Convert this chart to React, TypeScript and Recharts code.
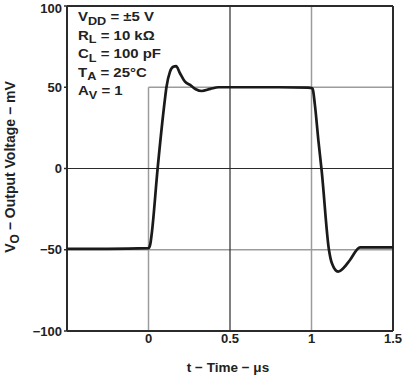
import { LineChart, Line, XAxis, YAxis, ReferenceLine, Label } from "recharts";

// pulse response
const timeUs = [
  -0.5, -0.25, 0, 0.01, 0.02, 0.056, 0.1, 0.11, 0.132, 0.152, 0.169, 0.193, 0.224, 0.255,
  0.29, 0.326, 0.38, 0.43, 0.6, 0.8, 0.98, 1.0, 1.007, 1.021, 1.042, 1.063, 1.107, 1.124,
  1.164, 1.195, 1.236, 1.298, 1.4, 1.5,
];
const outputMv = [
  -49.5, -49.5, -49, -47, -40, 0, 42, 50, 59.6, 62.6, 63, 58.6, 53.4, 51.4,
  48.8, 47.7, 49, 50, 50, 50, 49.8, 49.5, 49, 39, 17.5, -2, -50, -58,
  -63.5, -61.4, -56.3, -48.5, -48.5, -48.5,
];

const xTicks = [0, 0.5, 1, 1.5];
const yTicks = [-100, -50, 0, 50, 100];

const conditions = [
  { main: "V", sub: "DD", rest: " = ±5 V" },
  { main: "R", sub: "L", rest: " = 10 kΩ" },
  { main: "C", sub: "L", rest: " = 100 pF" },
  { main: "T", sub: "A", rest: " = 25°C" },
  { main: "A", sub: "V", rest: " = 1" },
];

const data = timeUs.map((t, i) => ({ t, v: outputMv[i] }));

const FONT = "'Liberation Sans', Arial, Helvetica, sans-serif";
const GRAY = "#9c9c9c";
const DARK = "#2b2b2b";

const fmt = (v: number) => (v < 0 ? `\u2212${Math.abs(v)}` : `${v}`);

const tickStyle = { fontFamily: FONT, fontSize: 13, fontWeight: 700, fill: "#222" };

const YTitle = () => (
  <text
    x={15}
    y={167}
    transform="rotate(-90 15 167)"
    textAnchor="middle"
    fontFamily={FONT}
    fontSize={14}
    fontWeight={700}
    fill="#222"
  >
    <tspan>V</tspan>
    <tspan dy={3.5} fontSize={12}>O</tspan>
    <tspan dy={-3.5}> − Output Voltage − mV</tspan>
  </text>
);

const XTitle = () => (
  <text x={228} y={372} textAnchor="middle" fontFamily={FONT} fontSize={13.5} fontWeight={700} fill="#222">
    t − Time − μs
  </text>
);

export default function App() {
  return (
    <div style={{ position: "absolute", left: 0, top: 0, width: 405, height: 376, background: "#fff" }}>
      <LineChart width={405} height={376} data={data} margin={{ top: 6, right: 12, bottom: 0, left: 0 }}>
        <XAxis
          dataKey="t"
          type="number"
          domain={[-0.5, 1.5]}
          ticks={xTicks}
          allowDataOverflow
          height={45}
          axisLine={false}
          tickLine={false}
          tickSize={0}
          tickMargin={3}
          tick={tickStyle}
        >
          <Label content={<XTitle />} />
        </XAxis>
        <YAxis
          type="number"
          domain={[-100, 100]}
          ticks={yTicks}
          allowDataOverflow
          width={67}
          axisLine={false}
          tickLine={{ stroke: DARK, strokeWidth: 1.5 }}
          tickSize={3}
          tickMargin={2}
          tickFormatter={fmt}
          tick={tickStyle}
        >
          <Label content={<YTitle />} />
        </YAxis>

        {/* input pulse / grid, light */}
        <ReferenceLine segment={[{ x: 0, y: -100 }, { x: 0, y: 50 }]} stroke={GRAY} strokeWidth={1.5} />
        <ReferenceLine x={1} stroke={GRAY} strokeWidth={1.5} />
        <ReferenceLine segment={[{ x: 0, y: 50 }, { x: 1.5, y: 50 }]} stroke={GRAY} strokeWidth={1.5} />
        <ReferenceLine y={-50} stroke={GRAY} strokeWidth={1.5} />
        {/* grid, dark */}
        <ReferenceLine x={0.5} stroke={DARK} strokeWidth={1.2} />
        <ReferenceLine y={0} stroke={DARK} strokeWidth={1.2} />
        {/* frame */}
        <ReferenceLine x={-0.5} stroke={DARK} strokeWidth={2} />
        <ReferenceLine x={1.5} stroke={DARK} strokeWidth={2} />
        <ReferenceLine y={100} stroke={DARK} strokeWidth={2} />
        <ReferenceLine y={-100} stroke={DARK} strokeWidth={2} />

        <Line
          dataKey="v"
          type="monotone"
          stroke="#1a1a1a"
          strokeWidth={2.7}
          dot={false}
          isAnimationActive={false}
        />
      </LineChart>

      <div
        style={{
          position: "absolute",
          left: 78,
          top: 8,
          fontFamily: FONT,
          fontSize: 13,
          fontWeight: 700,
          lineHeight: "17.5px",
          color: "#222",
          transform: "scaleX(1.15)",
          transformOrigin: "left top",
          whiteSpace: "nowrap",
        }}
      >
        {conditions.map((c) => (
          <div key={c.main + c.sub}>
            {c.main}
            <span style={{ fontSize: 11, position: "relative", top: 3.5 }}>{c.sub}</span>
            {c.rest}
          </div>
        ))}
      </div>
    </div>
  );
}
